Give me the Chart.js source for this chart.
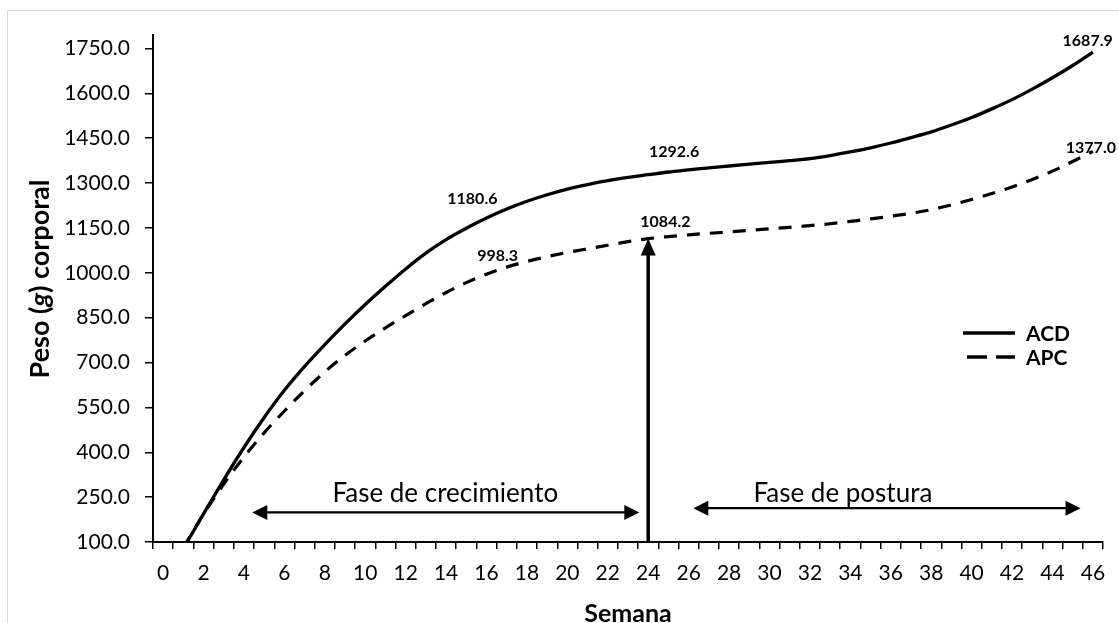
<!DOCTYPE html>
<html><head><meta charset="utf-8">
<script src="https://cdn.jsdelivr.net/npm/chart.js@4"></script>
<style>
html,body{margin:0;padding:0;background:#fff;}
#wrap{position:relative;width:1119px;height:623px;overflow:hidden;background:#fff;}
#frame{position:absolute;left:7px;top:10px;width:1140px;height:650px;border:1px solid #d9d9d9;box-sizing:border-box;}
canvas{position:absolute;left:0;top:0;}
</style></head>
<body><div id="wrap"><div id="frame"></div><canvas id="c" width="1119" height="623"></canvas></div>
<script>
const weeks = ['0','1','2','3','4','5','6','7','8','9','10','11','12','13','14','15','16','17','18','19','20','21','22','23','24','25','26','27','28','29','30','31','32','33','34','35','36','37','38','39','40','41','42','43','44','45','46'];
const acd = [null,78,194,308,416,516,607,687,760,829,894,955,1013,1066,1111,1149,1183,1213,1239,1261,1280,1295,1308,1319,1328,1337,1344,1351,1357,1363,1369,1375,1382,1392,1404,1418,1434,1452,1471,1494,1519,1548,1579,1614,1652,1693,1738];
const apc = [null,81,193,294,384,465,538,606,669,724,772,816,857,897,934,967,995,1019,1038,1054,1068,1080,1092,1104,1114,1121,1127,1132,1137,1142,1147,1152,1158,1164,1172,1180,1189,1199,1211,1227,1245,1265,1287,1312,1340,1372,1406];
const seriesNames = ['ACD','APC'];
const yTicks = [100,250,400,550,700,850,1000,1150,1300,1450,1600,1750];
const xTitle = 'Semana';
const yTitleParts = ['Peso (','g',') corporal'];

const valueLabels = ['1180.6','998.3','1292.6','1084.2','1687.9','1377.0'];
const valueLabelWeek = [15.3,16.55,25.28,24.85,45.74,45.9];
const valueLabelAt = [1246,1057,1406,1172,1777,1418];

const phaseNames = ['Fase de crecimiento','Fase de postura'];
const phaseFrom = [4.41,26.23];
const phaseTo = [23.56,45.39];
const phaseAt = [199,213];
const phaseTextWeek = [13.96,33.63];
const phaseTextAt = [235,235];

const pointerWeek = 24, pointerFrom = 100, pointerTo = 1115;

const FONT = 'Lato, "Open Sans", sans-serif';

function hArrowHead(ctx, x, y, dir){
  ctx.beginPath();
  ctx.moveTo(x, y);
  ctx.lineTo(x - dir*15, y - 7.5);
  ctx.lineTo(x - dir*15, y + 7.5);
  ctx.closePath(); ctx.fill();
}

const overlay = {
  id:'overlay',
  afterDatasetsDraw(chart){
    const {ctx, scales:{x, y}, chartArea} = chart;
    ctx.save();
    ctx.fillStyle = '#000'; ctx.strokeStyle = '#000';
    // vertical pointer
    const px = x.getPixelForValue(pointerWeek);
    const py0 = y.getPixelForValue(pointerFrom), py1 = y.getPixelForValue(pointerTo);
    ctx.lineWidth = 3.5;
    ctx.beginPath(); ctx.moveTo(px, py0); ctx.lineTo(px, py1+15); ctx.stroke();
    ctx.beginPath(); ctx.moveTo(px, py1); ctx.lineTo(px-7.5, py1+17); ctx.lineTo(px+7.5, py1+17); ctx.closePath(); ctx.fill();
    // phase arrows
    ctx.lineWidth = 2.3;
    ctx.font = '26px ' + FONT;
    ctx.textAlign = 'center'; ctx.textBaseline = 'alphabetic';
    for (let i=0;i<phaseNames.length;i++){
      const xa = x.getPixelForValue(phaseFrom[i]), xb = x.getPixelForValue(phaseTo[i]);
      const yy = y.getPixelForValue(phaseAt[i]);
      ctx.beginPath(); ctx.moveTo(xa+12, yy); ctx.lineTo(xb-12, yy); ctx.stroke();
      hArrowHead(ctx, xa, yy, -1); hArrowHead(ctx, xb, yy, 1);
      ctx.fillText(phaseNames[i], x.getPixelForValue(phaseTextWeek[i]), y.getPixelForValue(phaseTextAt[i]));
    }
    // value labels
    ctx.font = 'bold 16px ' + FONT;
    ctx.textBaseline = 'middle';
    for (let i=0;i<valueLabels.length;i++){
      ctx.fillText(valueLabels[i], x.getPixelForValue(valueLabelWeek[i]), y.getPixelForValue(valueLabelAt[i]));
    }
    // legend
    const lx0 = 963, lx1 = 1015, ly = [333, 357];
    chart.data.datasets.forEach((ds, i) => {
      ctx.save();
      ctx.lineWidth = 3.5;
      ctx.setLineDash(ds.borderDash && ds.borderDash.length ? [20, 9] : []);
      ctx.beginPath(); ctx.moveTo(lx0 + (i ? 4 : 0), ly[i]); ctx.lineTo(lx1, ly[i]); ctx.stroke();
      ctx.restore();
      ctx.font = 'bold 21px ' + FONT;
      ctx.textAlign = 'left'; ctx.textBaseline = 'middle';
      ctx.fillText(ds.label, 1026, ly[i] + 1);
    });
    // x title
    ctx.font = 'bold 25px ' + FONT;
    ctx.textAlign = 'center'; ctx.textBaseline = 'alphabetic';
    ctx.fillText(xTitle, (chartArea.left + chartArea.right)/2, 622);
    // y title (mixed styles)
    ctx.translate(40, 279);
    ctx.rotate(-Math.PI/2);
    const fonts = ['bold 27px ' + FONT, 'italic bold 27px ' + FONT, 'bold 27px ' + FONT];
    let total = 0; const widths = [];
    yTitleParts.forEach((t, i) => { ctx.font = fonts[i]; const w = ctx.measureText(t).width; widths.push(w); total += w; });
    let cx = -total/2;
    ctx.textAlign = 'left'; ctx.textBaseline = 'middle';
    yTitleParts.forEach((t, i) => { ctx.font = fonts[i]; ctx.fillText(t, cx, 0); cx += widths[i]; });
    ctx.restore();
  }
};

new Chart(document.getElementById('c'), {
  type:'line',
  data:{
    labels: weeks,
    datasets:[
      {label: seriesNames[0], data: acd, borderColor:'#000', borderWidth:3.3, pointRadius:0, fill:false, cubicInterpolationMode:'monotone'},
      {label: seriesNames[1], data: apc, borderColor:'#000', borderWidth:3.2, borderDash:[13,10], pointRadius:0, fill:false, cubicInterpolationMode:'monotone'}
    ]
  },
  options:{
    responsive:false, animation:false, devicePixelRatio:1,
    layout:{padding:{top:35, right:16, left:0, bottom:0}},
    plugins:{legend:{display:false}, tooltip:{enabled:false}, title:{display:false}},
    scales:{
      x:{
        type:'category', offset:true,
        grid:{offset:true, drawOnChartArea:false, drawTicks:true, tickLength:7, color:'#000', lineWidth:1.5},
        border:{display:true, color:'#000', width:2},
        ticks:{autoSkip:false, maxRotation:0, minRotation:0, padding:12, color:'#000', font:{family:FONT, size:21},
          callback:(v, i) => (i % 2 === 0 ? weeks[i] : '')},
        afterFit:(s) => { s.height = 81; }
      },
      y:{
        min:100, max:1795,
        grid:{drawOnChartArea:false, drawTicks:true, tickLength:8, color:'#000', lineWidth:1.5},
        border:{display:true, color:'#000', width:2},
        ticks:{padding:15, color:'#000', font:{family:FONT, size:21}, callback:(v) => Number(v).toFixed(1)},
        afterBuildTicks:(s) => { s.ticks = yTicks.map(v => ({value:v})); },
        afterFit:(s) => { s.width = 153; }
      }
    }
  },
  plugins:[overlay]
});
</script>
</body></html>
